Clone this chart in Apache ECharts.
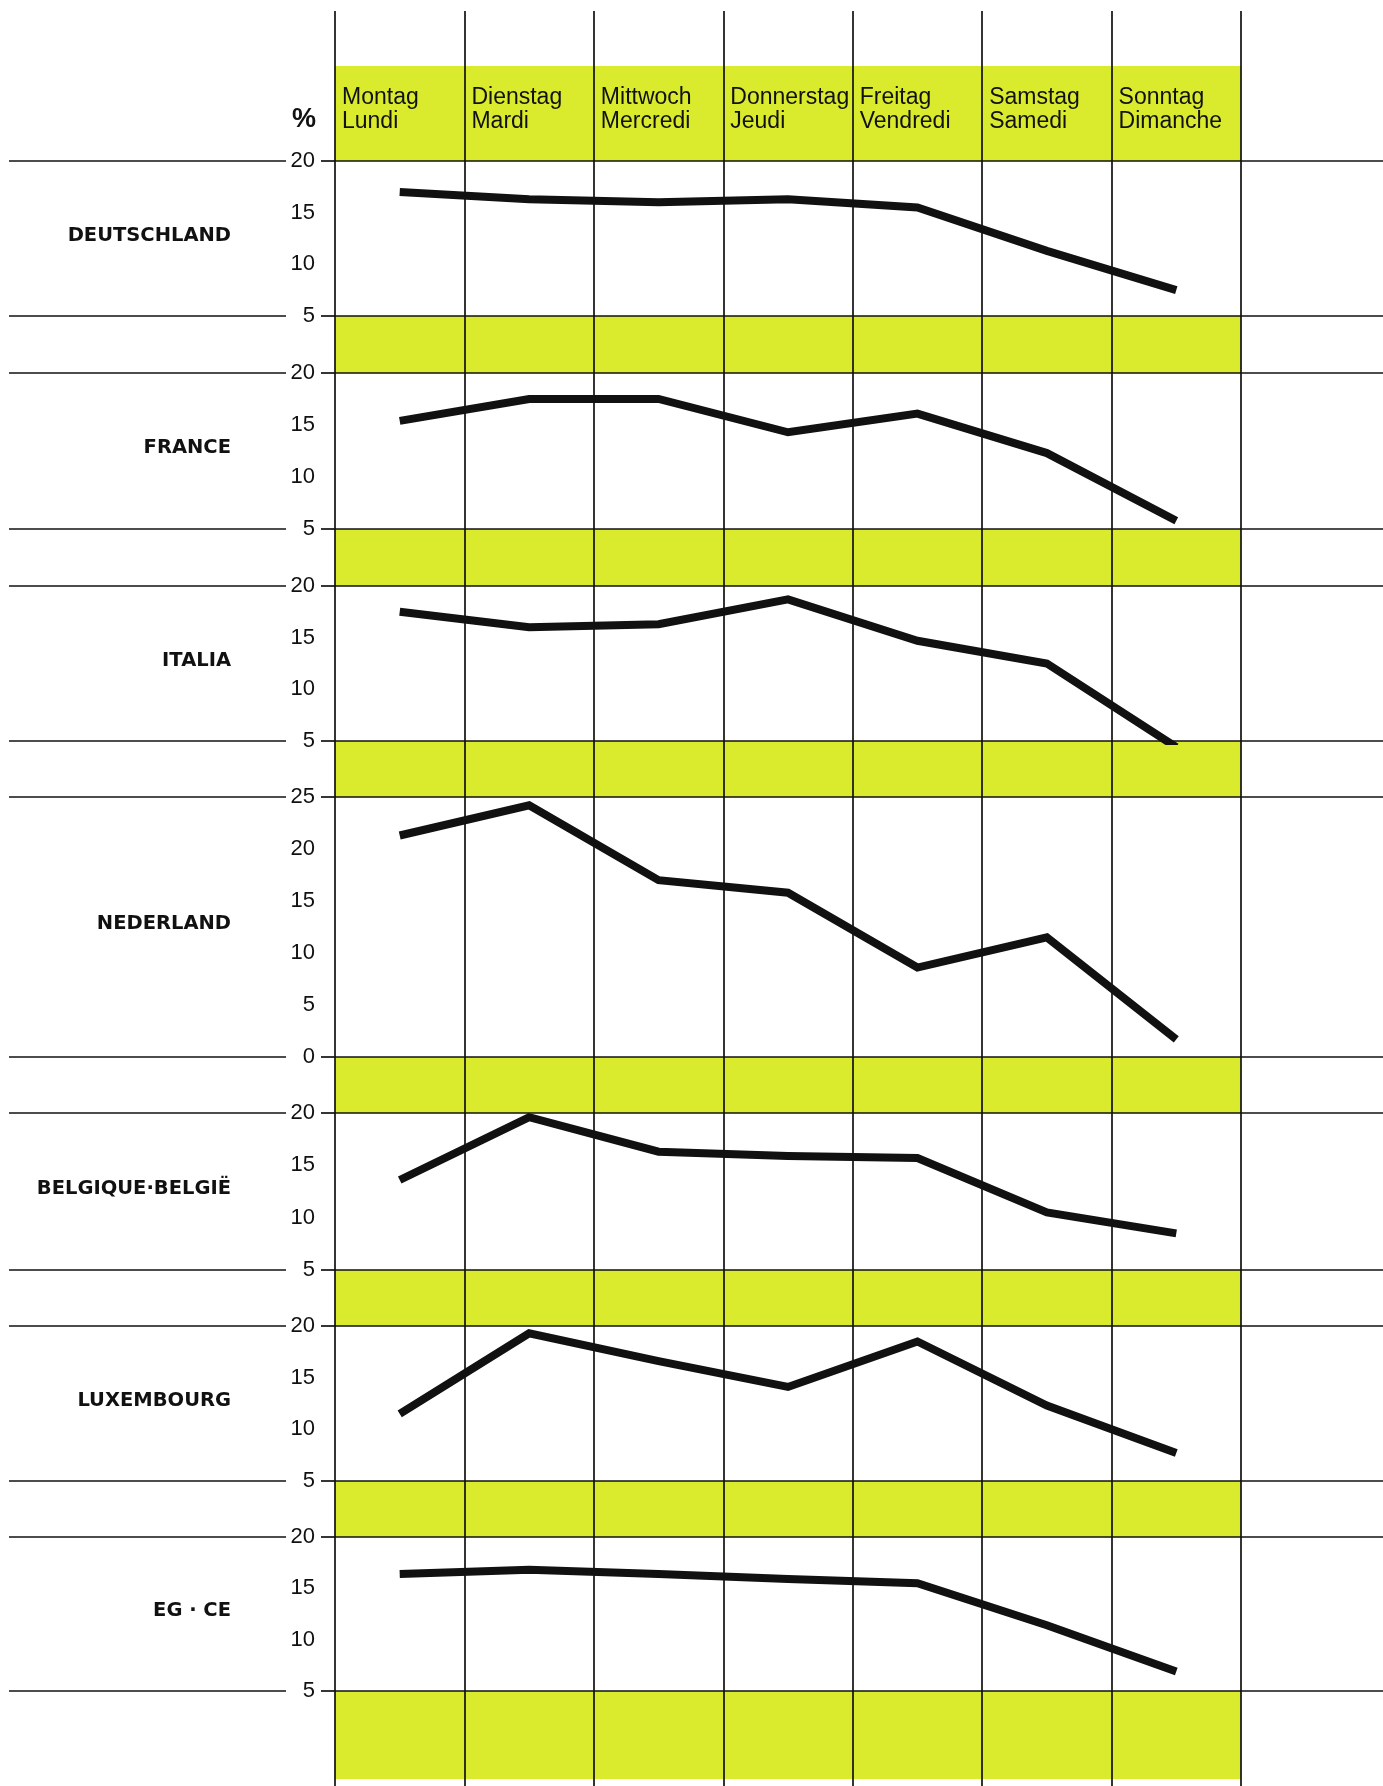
<!DOCTYPE html>
<html><head><meta charset="utf-8">
<script src="https://cdn.jsdelivr.net/npm/echarts@6/dist/echarts.min.js"></script>
<style>html,body{margin:0;padding:0;background:#fff}#c{width:1383px;height:1786px}</style>
</head><body><div id="c"></div>
<script>
// ---- data ----
const days = ['Montag\nLundi', 'Dienstag\nMardi', 'Mittwoch\nMercredi', 'Donnerstag\nJeudi', 'Freitag\nVendredi', 'Samstag\nSamedi', 'Sonntag\nDimanche'];
const countries = ['DEUTSCHLAND', 'FRANCE', 'ITALIA', 'NEDERLAND', 'BELGIQUE·BELGIË', 'LUXEMBOURG', 'EG · CE'];
const deutschland = [17.0, 16.3, 16.0, 16.3, 15.5, 11.3, 7.5];
const france      = [15.4, 17.5, 17.5, 14.3, 16.1, 12.3, 5.8];
const italia      = [17.5, 16.0, 16.3, 18.7, 14.7, 12.5, 4.4];
const nederland   = [21.3, 24.2, 17.0, 15.8, 8.6, 11.5, 1.7];
const belgique    = [13.6, 19.6, 16.3, 15.9, 15.7, 10.5, 8.5];
const luxembourg  = [11.5, 19.3, 16.6, 14.1, 18.5, 12.3, 7.7];
const egce        = [16.4, 16.8, 16.4, 15.9, 15.5, 11.4, 6.9];
const ticksStd = [5, 10, 15, 20];
const ticksNL  = [0, 5, 10, 15, 20, 25];
const unitLabel = '%';

const seriesData = [deutschland, france, italia, nederland, belgique, luxembourg, egce];
const tickSets = [ticksStd, ticksStd, ticksStd, ticksNL, ticksStd, ticksStd, ticksStd];

// ---- layout ----
const W = 1383, H = 1786;
const GL = 335, GW = 906, GR = GL + GW;
const panelTop = [161, 373, 586, 797, 1113, 1326, 1537];
const panelH   = [155, 156, 155, 260, 157, 155, 154];
const headerTop = 66, bottomBandEnd = 1779;
const YELLOW = '#d9eb2c';
const INK = '#111111';
const lineW = 1.7;
const FONT = 'Liberation Sans, Arial, sans-serif';

const grids = [], xAxes = [], yAxes = [], series = [], graphics = [];

// background grid: vertical column lines through the whole page
grids.push({left: GL, width: GW, top: 11, height: H - 11});
xAxes.push({gridIndex: 0, type: 'category', data: days, boundaryGap: true,
  axisLine: {show: false}, axisTick: {show: false}, axisLabel: {show: false},
  splitLine: {show: true, interval: 0, lineStyle: {color: INK, width: lineW}}});
yAxes.push({gridIndex: 0, type: 'value', show: false, min: 0, max: 1});

// header grid: day labels
grids.push({left: GL, width: GW, top: headerTop, height: panelTop[0] - headerTop});
xAxes.push({gridIndex: 1, type: 'category', position: 'top', boundaryGap: false,
  data: days.concat(['']),
  axisLine: {show: false}, axisTick: {show: false}, splitLine: {show: false},
  axisLabel: {inside: true, interval: 0, margin: 20, align: 'left', verticalAlign: 'top',
    padding: [0, 0, 0, 7], fontFamily: FONT, fontSize: 23,
    lineHeight: 24, color: INK, showMaxLabel: true, showMinLabel: true}});
yAxes.push({gridIndex: 1, type: 'value', show: false, min: 0, max: 1});

// yellow bands
const bands = [[headerTop, panelTop[0]]];
for (let i = 0; i < panelTop.length; i++) {
  const b = panelTop[i] + panelH[i];
  const e = i < panelTop.length - 1 ? panelTop[i + 1] : bottomBandEnd;
  bands.push([b, e]);
}
bands.forEach(([a, b]) => graphics.push({type: 'rect', z: -10, silent: true,
  shape: {x: GL, y: a, width: GW, height: b - a}, style: {fill: YELLOW}}));

for (let i = 0; i < 7; i++) {
  const g = i + 2;
  const lo = tickSets[i][0], hi = tickSets[i][tickSets[i].length - 1];
  grids.push({left: GL, width: GW, top: panelTop[i], height: panelH[i]});
  xAxes.push({gridIndex: g, type: 'category', data: days, boundaryGap: true, show: false});
  yAxes.push({gridIndex: g, type: 'value', min: lo, max: hi, interval: 5,
    name: i === 0 ? unitLabel : '', nameLocation: 'end', nameGap: 28,
    nameTextStyle: {align: 'right', verticalAlign: 'bottom', padding: [0, 19, 0, 0],
      fontFamily: FONT, fontSize: 27, fontWeight: 'bold', color: INK},
    axisLine: {show: false},
    axisTick: {show: true, customValues: [lo, hi], length: 14, lineStyle: {color: INK, width: lineW}},
    axisLabel: {customValues: tickSets[i], margin: 20, fontFamily: FONT,
      fontSize: 22, color: INK},
    splitLine: {show: true, lineStyle: {color: INK, width: lineW}}});
  series.push({type: 'line', xAxisIndex: g, yAxisIndex: g, data: seriesData[i], symbol: 'none',
    silent: true, lineStyle: {color: INK, width: 8, cap: 'butt', join: 'miter'}});

  // boundary extension lines (left and right of the grid)
  [panelTop[i], panelTop[i] + panelH[i]].forEach(y => {
    graphics.push({type: 'line', silent: true, shape: {x1: 9, y1: y, x2: 286, y2: y},
      style: {stroke: INK, lineWidth: lineW}});
    graphics.push({type: 'line', silent: true, shape: {x1: GR, y1: y, x2: W, y2: y},
      style: {stroke: INK, lineWidth: lineW}});
  });
  // country label
  graphics.push({type: 'text', silent: true, x: 231, y: panelTop[i] + panelH[i] / 2 - 3,
    style: {text: countries[i], font: 'bold 19.5px "DejaVu Sans", sans-serif', fill: INK,
      align: 'right', verticalAlign: 'middle', textAlign: 'right', textVerticalAlign: 'middle'}});
}

const chart = echarts.init(document.getElementById('c'), null, {renderer: 'canvas', width: W, height: H});
chart.setOption({
  animation: false,
  backgroundColor: '#ffffff',
  grid: grids, xAxis: xAxes, yAxis: yAxes, series: series, graphic: graphics
});
</script></body></html>
